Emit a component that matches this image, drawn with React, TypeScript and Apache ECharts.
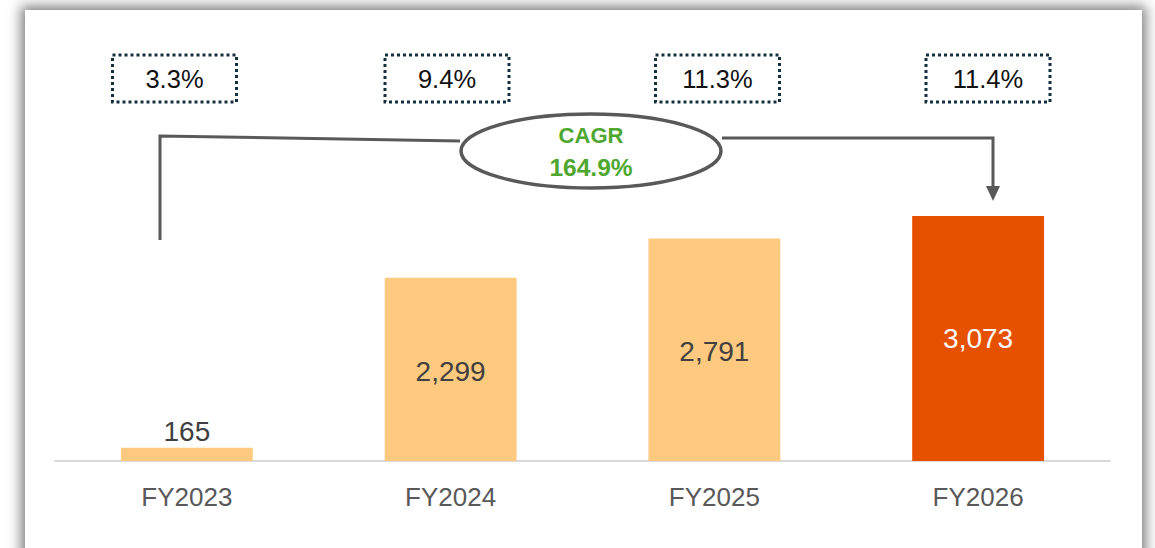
import React, { useEffect, useRef } from "react";
import * as echarts from "echarts";

const categories = ["FY2023", "FY2024", "FY2025", "FY2026"];
const values = [165, 2299, 2791, 3073];
const valueLabels = ["165", "2,299", "2,791", "3,073"];
const growthLabels = ["3.3%", "9.4%", "11.3%", "11.4%"];
const cagrTitle = "CAGR";
const cagrValue = "164.9%";

const barColors = ["#FFCA7F", "#FFCA7F", "#FFCA7F", "#E65100"];
const FONT = "Arial, 'Liberation Sans', sans-serif";

export default function App() {
  const ref = useRef<HTMLDivElement>(null);
  useEffect(() => {
    if (!ref.current) return;
    const chart = echarts.init(ref.current, undefined, { renderer: "svg" });
    const boxCenters = [174.5, 447, 717.5, 988];
    const boxes: any[] = [];
    growthLabels.forEach((t, i) => {
      boxes.push({
        type: "rect",
        shape: { x: boxCenters[i] - 62, y: 55, width: 124, height: 47 },
        style: { fill: "#fff", stroke: "#14303F", lineWidth: 3, lineDash: [3, 3] },
      });
      boxes.push({
        type: "text",
        x: boxCenters[i],
        y: 79,
        style: {
          text: t,
          font: `25.5px ${FONT}`,
          fill: "#111",
          align: "center",
          verticalAlign: "middle",
        },
      });
    });
    const lineStyle = { stroke: "#595959", lineWidth: 3, fill: null };
    chart.setOption({
      animation: false,
      grid: { left: 55, right: 45, top: 62.4, bottom: 87 },
      xAxis: {
        type: "category",
        data: categories,
        axisLine: { lineStyle: { color: "#D9D9D9", width: 2 } },
        axisTick: { show: false },
        axisLabel: {
          color: "#595959",
          fontSize: 26,
          margin: 23,
          fontFamily: FONT,
        },
      },
      yAxis: { type: "value", min: 0, max: 5000, show: false, splitLine: { show: false } },
      series: [
        {
          type: "bar",
          barWidth: "50%",
          data: values.map((v, i) => ({
            value: v,
            itemStyle: { color: barColors[i] },
            label: {
              show: true,
              position: i === 0 ? "top" : "inside",
              formatter: valueLabels[i],
              color: i === 3 ? "#fff" : "#404040",
              fontSize: 28,
              distance: 2,
              offset: i === 0 ? [0, 0] : [0, i === 3 ? 0 : 2],
              fontFamily: FONT,
            },
          })),
        },
      ],
      graphic: [
        ...boxes,
        { type: "polyline", shape: { points: [[160, 240], [160, 136], [460, 141]] }, style: lineStyle },
        { type: "polyline", shape: { points: [[722, 138], [993, 138], [993, 188]] }, style: lineStyle },
        { type: "polygon", shape: { points: [[986, 186], [1000, 186], [993, 201]] }, style: { fill: "#595959" } },
        {
          type: "ellipse",
          shape: { cx: 591, cy: 151, rx: 130, ry: 37 },
          style: { fill: "#fff", stroke: "#595959", lineWidth: 3.5 },
        },
        {
          type: "text",
          x: 591,
          y: 135,
          style: {
            text: cagrTitle,
            font: `bold 22px ${FONT}`,
            fill: "#4EA72E",
            align: "center",
            verticalAlign: "middle",
          },
        },
        {
          type: "text",
          x: 591,
          y: 167,
          style: {
            text: cagrValue,
            font: `bold 24.5px ${FONT}`,
            fill: "#4EA72E",
            align: "center",
            verticalAlign: "middle",
          },
        },
      ],
    });
    return () => chart.dispose();
  }, []);
  return (
    <div style={{ position: "fixed", left: 0, top: 0, width: 1155, height: 548, background: "#fff", overflow: "hidden" }}>
      <div
        style={{
          position: "absolute",
          left: 25,
          top: 10,
          width: 1117,
          height: 600,
          background: "#fff",
          boxShadow: "0 0 12px 4px rgba(0,0,0,0.5)",
        }}
      />
      <div ref={ref} style={{ position: "absolute", left: 0, top: 0, width: 1155, height: 548 }} />
    </div>
  );
}
